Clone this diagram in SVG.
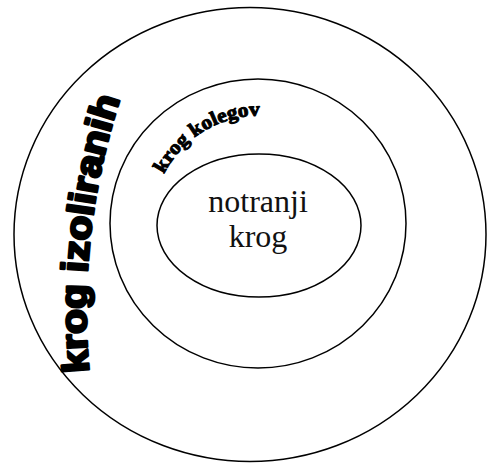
<svg xmlns="http://www.w3.org/2000/svg" width="487" height="463" viewBox="0 0 487 463">
<style>
  .ring { fill: none; stroke: #000; stroke-width: 1.5; }
  .inner-text { font-family: "Liberation Serif", "Times New Roman", serif; font-size: 32px; fill: #111; text-anchor: middle; }
  .outer-label { font-family: "Liberation Sans", Arial, sans-serif; font-weight: bold; font-size: 37px; fill: #000; stroke: #000; stroke-width: 2.6; stroke-linejoin: round; }
  .mid-label { font-family: "Liberation Serif", "Times New Roman", serif; font-weight: bold; font-size: 20px; fill: #000; stroke: #000; stroke-width: 1; stroke-linejoin: round; }
</style>
<defs>
  <path id="outerArc" d="M89,372 A680,680 0 0,1 122,93"/>
  <path id="midArc" d="M164,174 A107,107 0 0,1 270,116.3"/>
</defs>
<g id="outer">
  <ellipse class="ring" cx="250" cy="234.5" rx="236" ry="227"/>
  <text class="outer-label"><textPath href="#outerArc" textLength="277" lengthAdjust="spacingAndGlyphs">krog izoliranih</textPath></text>
</g>
<g id="middle">
  <ellipse class="ring" cx="258" cy="223.5" rx="148" ry="144.5"/>
  <text class="mid-label"><textPath href="#midArc" textLength="118" lengthAdjust="spacingAndGlyphs">krog kolegov</textPath></text>
</g>
<g id="inner">
  <ellipse class="ring" cx="259" cy="225.5" rx="102" ry="71.5"/>
  <text class="inner-text" x="258" y="212">notranji</text>
  <text class="inner-text" x="258" y="247">krog</text>
</g>
<g id="connectors"/>
</svg>
